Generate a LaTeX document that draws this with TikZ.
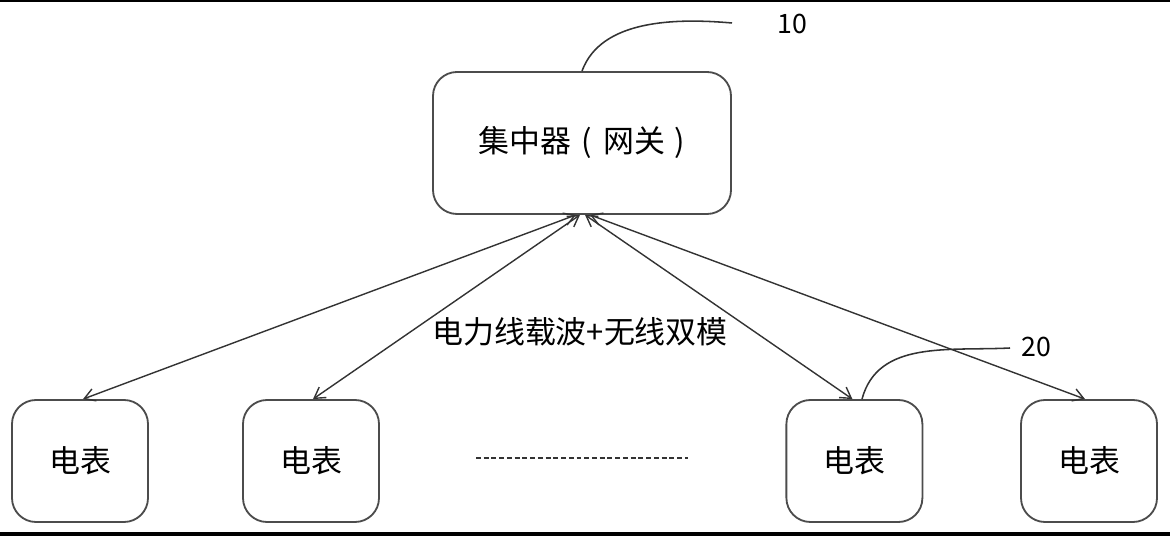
\documentclass[tikz,border=0pt]{standalone}
\usepackage{fontspec}
\setmainfont{Noto Sans CJK SC}
\usetikzlibrary{positioning, arrows.meta}

\begin{document}
\begin{tikzpicture}[
		box/.style={draw=black!70, line width=1.3pt, rounded corners=0.6cm, align=center, font=\fontsize{22}{26}\selectfont},
		hubbox/.style={box, minimum width=7.45cm, minimum height=3.55cm},
		meter/.style={box, minimum width=3.4cm, minimum height=3.05cm},
		link/.style={<->, draw=black!80, line width=1pt},
		callout/.style={draw=black!80, line width=1.1pt},
		mylabel/.style={font=\fontsize{19}{22}\selectfont},
		>={Straight Barb[length=7.5pt,width=9pt]}
		]
		
		\useasboundingbox (0,0) rectangle (29.25,13.4);
		\fill[black] (0,13.35) rectangle (29.25,13.4);
		\fill[black] (0,0) rectangle (29.25,0.1);
		
		\node[hubbox] (hub) at (14.55, 9.825) {集中器\hspace{7pt}(\hspace{8pt}网关\hspace{7pt})};
		
		\foreach \x [count=\i from 1] in {2.0, 7.775, 21.36, 27.225}
		\node[meter] (m\i) at (\x, 1.875) {电表};
		
		\draw[link] ([xshift=0.075cm]m1.north) to ([xshift=-0.15cm]hub.south);
		\draw[link] ([xshift=0.05cm]m2.north) to ([xshift=-0.05cm]hub.south);
		\draw[link] ([xshift=-0.05cm]m3.north) to ([xshift=0.075cm]hub.south);
		\draw[link] ([xshift=-0.1cm]m4.north) to ([xshift=0.2cm]hub.south);
		
		\node[font=\fontsize{22}{26}\selectfont] (mode) at (14.5, 5.1) {电力线载波+无线双模};
		
		% dots between the meters
		\coordinate (dl) at (11.9, 1.95);
		\coordinate (dr) at (17.2, 1.95);
		\draw[black!80, line width=1.4pt, dash pattern=on 3.5pt off 2pt] (dl) -- (dr);
		
		\node[mylabel, anchor=west] (n10) at (19.325, 12.8) {10};
		\coordinate (c10) at (18.3, 12.825);
		\draw[callout] (hub.north) to[out=70, in=175, looseness=0.9] (c10);
		
		\node[mylabel, anchor=west] (n20) at (25.425, 4.725) {20};
		\coordinate (c20) at (25.25, 4.7);
		\draw[callout] ([xshift=0.19cm]m3.north) to[out=75, in=183] (c20);
		
		\end{tikzpicture}
\end{document}
